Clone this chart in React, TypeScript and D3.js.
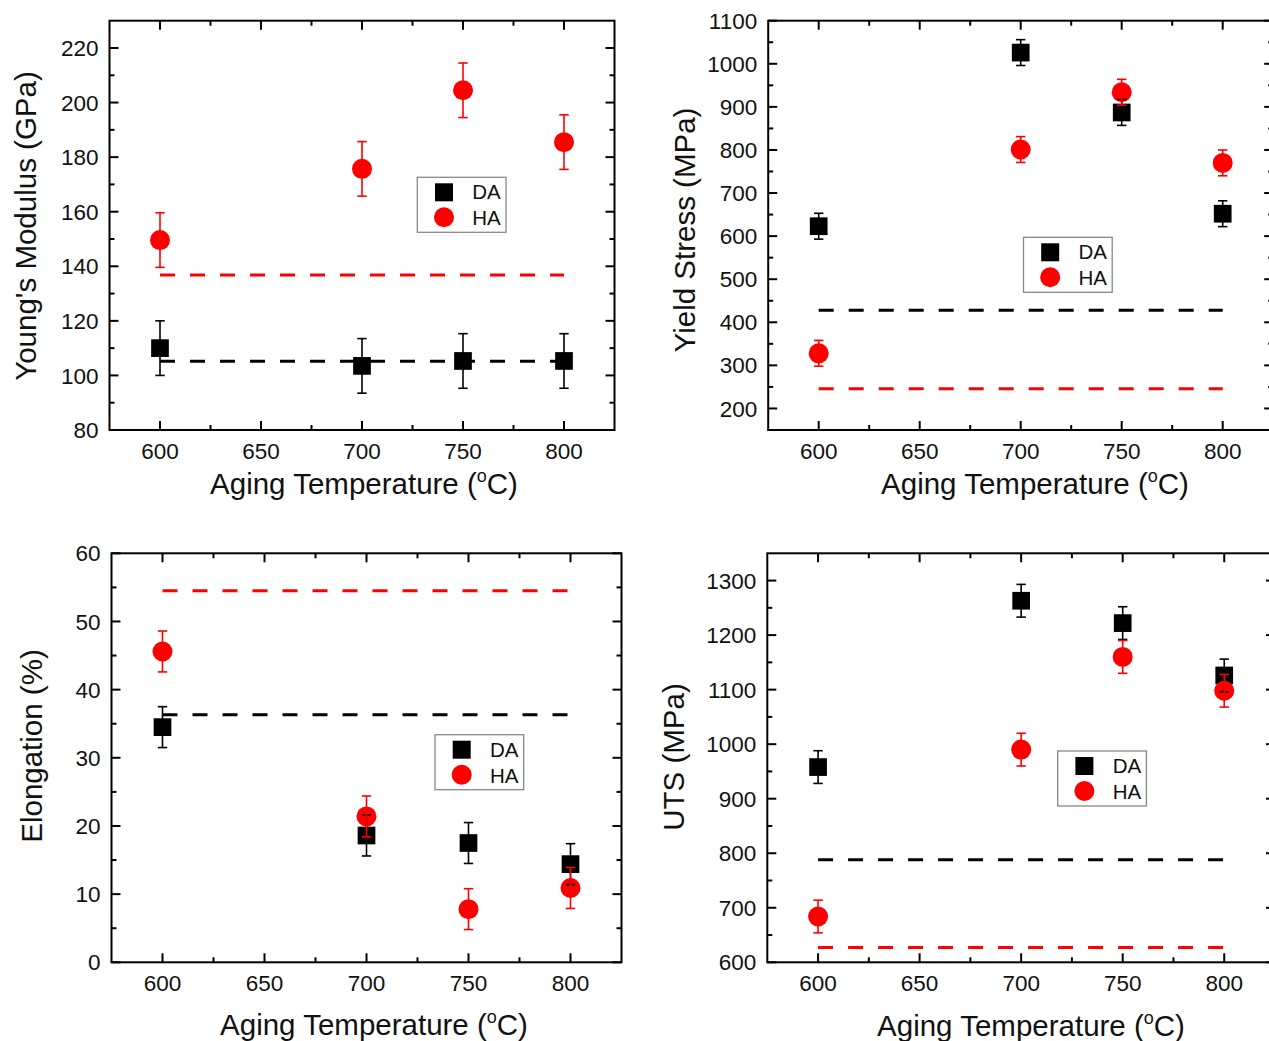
import React from "react";
import * as d3 from "d3";

// ---------- data ----------
const temperatures = [600, 700, 750, 800];
const xTickValues = [600, 650, 700, 750, 800];

const modulusDA = [110, 103.5, 105.3, 105.3];
const modulusDAErr = [10, 10, 10, 10];
const modulusHA = [149.6, 175.7, 204.5, 185.5];
const modulusHAErr = [10, 10, 10, 10];
const modulusRef = { DA: 105.2, HA: 136.8 };
const modulusTicks = [80, 100, 120, 140, 160, 180, 200, 220];

const yieldDA = [623, 1026, 887, 652];
const yieldDAErr = [30, 30, 30, 30];
const yieldHA = [328, 801, 934, 770];
const yieldHAErr = [30, 30, 30, 30];
const yieldRef = { DA: 428, HA: 246 };
const yieldTicks = [200, 300, 400, 500, 600, 700, 800, 900, 1000, 1100];

const elongDA = [34.5, 18.6, 17.5, 14.4];
const elongDAErr = [3, 3, 3, 3];
const elongHA = [45.6, 21.4, 7.8, 10.9];
const elongHAErr = [3, 3, 3, 3];
const elongRef = { DA: 36.3, HA: 54.5 };
const elongTicks = [0, 10, 20, 30, 40, 50, 60];

const utsDA = [958, 1263, 1222, 1126];
const utsDAErr = [30, 30, 30, 30];
const utsHA = [684, 990, 1160, 1098];
const utsHAErr = [30, 30, 30, 30];
const utsRef = { DA: 788, HA: 627 };
const utsTicks = [600, 700, 800, 900, 1000, 1100, 1200, 1300];

const seriesNames = ["DA", "HA"];
const xTitle = "Aging Temperature (";

// ---------- layout ----------
const FONT = "'Liberation Sans', Arial, Helvetica, sans-serif";
const RED = "#ff0000";

const panels = [
  {
    frame: { x0: 109.5, x1: 614.5, y0: 20.7, y1: 430 },
    yDomain: [80, 230], yTicks: modulusTicks,
    da: modulusDA, daErr: modulusDAErr, ha: modulusHA, haErr: modulusHAErr, ref: modulusRef,
    yTitle: "Young's Modulus (GPa)", yTitlePos: [36, 226],
    xTitlePos: [364, 494],
    legend: { x: 417.3, y: 177.3 },
  },
  {
    frame: { x0: 768.2, x1: 1273.2, y0: 20.7, y1: 430 },
    yDomain: [150, 1100], yTicks: yieldTicks,
    da: yieldDA, daErr: yieldDAErr, ha: yieldHA, haErr: yieldHAErr, ref: yieldRef,
    yTitle: "Yield Stress (MPa)", yTitlePos: [695, 230],
    xTitlePos: [1035, 494],
    legend: { x: 1023.5, y: 237.3 },
  },
  {
    frame: { x0: 111.5, x1: 621.5, y0: 553.3, y1: 962.3 },
    yDomain: [0, 60], yTicks: elongTicks,
    da: elongDA, daErr: elongDAErr, ha: elongHA, haErr: elongHAErr, ref: elongRef,
    yTitle: "Elongation (%)", yTitlePos: [42, 746],
    xTitlePos: [374, 1035],
    legend: { x: 435, y: 734.7 },
  },
  {
    frame: { x0: 767.3, x1: 1275, y0: 553.3, y1: 962.3 },
    yDomain: [600, 1350], yTicks: utsTicks,
    da: utsDA, daErr: utsDAErr, ha: utsHA, haErr: utsHAErr, ref: utsRef,
    yTitle: "UTS (MPa)", yTitlePos: [684, 757],
    xTitlePos: [1031, 1036],
    legend: { x: 1057.7, y: 751 },
  },
];

function Panel({ p }: { p: any }) {
  const { x0, x1, y0, y1 } = p.frame;
  const x = d3.scaleLinear().domain([575, 825]).range([x0, x1]);
  const y = d3.scaleLinear().domain(p.yDomain).range([y1, y0]);
  const step = p.yTicks[1] - p.yTicks[0];
  const yMinor = p.yTicks.map((t: number) => t + step / 2).filter((t: number) => t < p.yDomain[1]);
  const xMinor = [625, 675, 725, 775];
  const MAJ = 9, MIN = 5, TW = 2;
  const sq = 17.7, r = 10, cap = 4.7;

  const errBars = (vals: number[], errs: number[], color: string, key: string) =>
    temperatures.map((t, i) => {
      const cx = x(t);
      const top = y(vals[i] + errs[i]);
      const bot = y(vals[i] - errs[i]);
      return (
        <g key={key + i} stroke={color} strokeWidth={1.6}>
          <line x1={cx} x2={cx} y1={top} y2={bot} />
          <line x1={cx - cap} x2={cx + cap} y1={top} y2={top} />
          <line x1={cx - cap} x2={cx + cap} y1={bot} y2={bot} />
        </g>
      );
    });

  const lg = p.legend;
  return (
    <g>
      <line x1={x(600)} x2={x(800)} y1={y(p.ref.DA)} y2={y(p.ref.DA)} stroke="#000" strokeWidth={3} strokeDasharray="15 15" />
      <line x1={x(600)} x2={x(800)} y1={y(p.ref.HA)} y2={y(p.ref.HA)} stroke={RED} strokeWidth={3} strokeDasharray="15 15" />
      {temperatures.map((t, i) => (
        <rect key={"s" + i} x={x(t) - sq / 2} y={y(p.da[i]) - sq / 2} width={sq} height={sq} fill="#000" />
      ))}
      {temperatures.map((t, i) => (
        <circle key={"c" + i} cx={x(t)} cy={y(p.ha[i])} r={r} fill={RED} />
      ))}
      {errBars(p.da, p.daErr, "#000", "ed")}
      {errBars(p.ha, p.haErr, RED, "eh")}
      <rect x={x0} y={y0} width={x1 - x0} height={y1 - y0} fill="none" stroke="#000" strokeWidth={TW} />
      <g stroke="#000" strokeWidth={TW}>
        {p.yTicks.map((t: number) => (
          <g key={"yt" + t}>
            <line x1={x0} x2={x0 + MAJ} y1={y(t)} y2={y(t)} />
            <line x1={x1} x2={x1 - MAJ} y1={y(t)} y2={y(t)} />
          </g>
        ))}
        {yMinor.map((t: number) => (
          <g key={"ym" + t}>
            <line x1={x0} x2={x0 + MIN} y1={y(t)} y2={y(t)} />
            <line x1={x1} x2={x1 - MIN} y1={y(t)} y2={y(t)} />
          </g>
        ))}
        {xTickValues.map((t) => (
          <g key={"xt" + t}>
            <line x1={x(t)} x2={x(t)} y1={y1} y2={y1 - MAJ} />
            <line x1={x(t)} x2={x(t)} y1={y0} y2={y0 + MAJ} />
          </g>
        ))}
        {xMinor.map((t) => (
          <g key={"xm" + t}>
            <line x1={x(t)} x2={x(t)} y1={y1} y2={y1 - MIN} />
            <line x1={x(t)} x2={x(t)} y1={y0} y2={y0 + MIN} />
          </g>
        ))}
      </g>
      <g fontFamily={FONT} fontSize={22.5} fill="#111">
        {p.yTicks.map((t: number) => (
          <text key={"yl" + t} x={x0 - 11} y={y(t)} dy="0.36em" textAnchor="end">{t}</text>
        ))}
        {xTickValues.map((t) => (
          <text key={"xl" + t} x={x(t)} y={y1 + 21} dy="0.36em" textAnchor="middle">{t}</text>
        ))}
      </g>
      <text x={p.xTitlePos[0]} y={p.xTitlePos[1]} textAnchor="middle" fontFamily={FONT} fontSize={29.5} fill="#111">
        {xTitle}
        <tspan fontSize={18} dy={-12}>o</tspan>
        <tspan dy={12}>C)</tspan>
      </text>
      <text transform={`translate(${p.yTitlePos[0]},${p.yTitlePos[1]}) rotate(-90)`} textAnchor="middle" fontFamily={FONT} fontSize={29.5} fill="#111">
        {p.yTitle}
      </text>
      <rect x={lg.x} y={lg.y} width={88.7} height={55} fill="#fff" stroke="#888" strokeWidth={1.3} />
      <rect x={lg.x + 26.7 - 9} y={lg.y + 15 - 9} width={18} height={18} fill="#000" />
      <circle cx={lg.x + 26.7} cy={lg.y + 40} r={10} fill={RED} />
      <text x={lg.x + 55} y={lg.y + 22} fontFamily={FONT} fontSize={20.5} fill="#111">{seriesNames[0]}</text>
      <text x={lg.x + 55} y={lg.y + 48} fontFamily={FONT} fontSize={20.5} fill="#111">{seriesNames[1]}</text>
    </g>
  );
}

export default function App() {
  return (
    <svg
      width={1269}
      height={1041}
      style={{ position: "absolute", left: 0, top: 0, background: "#fff" }}
    >
      <rect x={0} y={0} width={1269} height={1041} fill="#fff" />
      {panels.map((p, i) => (
        <Panel key={i} p={p} />
      ))}
    </svg>
  );
}
